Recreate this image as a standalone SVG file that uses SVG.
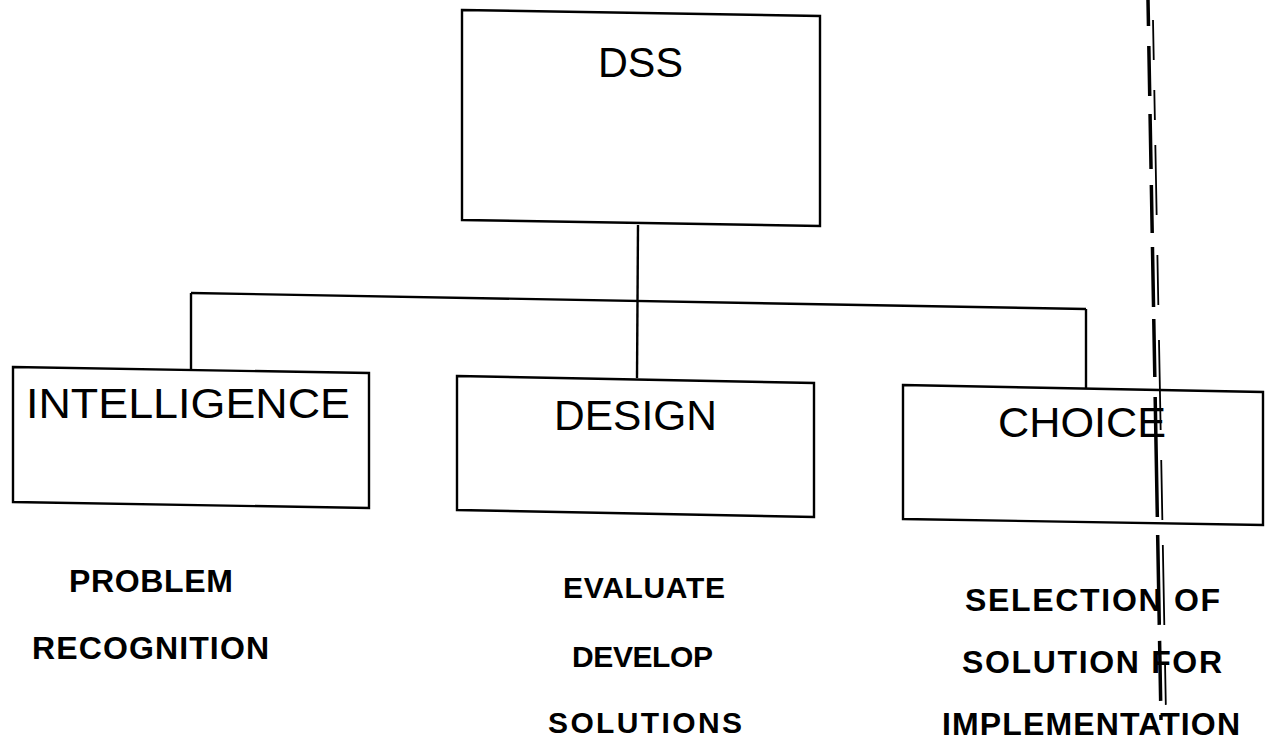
<svg xmlns="http://www.w3.org/2000/svg" width="1266" height="746" viewBox="0 0 1266 746">
  <style>
    .box { fill: #ffffff; stroke: #000000; stroke-width: 2.4; stroke-linejoin: miter; }
    .conn { fill: none; stroke: #000000; stroke-width: 2.4; }
    .title { font-family: "Liberation Sans", Arial, sans-serif; font-size: 43px; fill: #000000; font-weight: normal; }
    .label { font-family: "Liberation Sans", Arial, sans-serif; font-size: 32px; font-weight: bold; fill: #000000; }
    .label2 { font-family: "Liberation Sans", Arial, sans-serif; font-size: 30px; font-weight: bold; fill: #000000; }
    .scan { fill: none; stroke: #000000; }
  </style>
  <rect x="0" y="0" width="1266" height="746" fill="#ffffff"/>

  <g id="connectors">
    <path class="conn" d="M638,225 L637,378"/>
    <path class="conn" d="M191,293 L1086,309"/>
    <path class="conn" d="M191,293 L191,370"/>
    <path class="conn" d="M1086,309 L1086,388"/>
  </g>

  <g id="node-dss">
    <path class="box" d="M462,10 L820,16 L820,226 L462,220 Z"/>
    <text class="title" x="598" y="77" textLength="85" lengthAdjust="spacingAndGlyphs">DSS</text>
  </g>

  <g id="node-intelligence">
    <path class="box" d="M13,367 L369,373 L369,508 L13,502 Z"/>
    <text class="title" x="26" y="418" textLength="324" lengthAdjust="spacingAndGlyphs">INTELLIGENCE</text>
  </g>

  <g id="node-design">
    <path class="box" d="M457,376 L814,383 L814,517 L457,510 Z"/>
    <text class="title" x="554" y="430" textLength="163" lengthAdjust="spacingAndGlyphs">DESIGN</text>
  </g>

  <g id="node-choice">
    <path class="box" d="M903,385 L1263,392 L1263,525 L903,519 Z"/>
    <text class="title" x="998" y="437" textLength="168" lengthAdjust="spacingAndGlyphs">CHOICE</text>
  </g>

  <g id="labels-intelligence">
    <text class="label" x="69" y="592" textLength="164" lengthAdjust="spacing">PROBLEM</text>
    <text class="label" x="32" y="659" textLength="237" lengthAdjust="spacing">RECOGNITION</text>
  </g>

  <g id="labels-design">
    <text class="label2" x="563" y="598" textLength="162" lengthAdjust="spacing">EVALUATE</text>
    <text class="label2" x="572" y="667" textLength="141" lengthAdjust="spacing">DEVELOP</text>
    <text class="label2" x="548" y="733" textLength="194" lengthAdjust="spacing">SOLUTIONS</text>
  </g>

  <g id="labels-choice">
    <text class="label" x="965" y="611" textLength="255" lengthAdjust="spacing">SELECTION OF</text>
    <text class="label" x="962" y="673" textLength="260" lengthAdjust="spacing">SOLUTION FOR</text>
    <text class="label" x="942" y="735" textLength="298" lengthAdjust="spacing">IMPLEMENTATION</text>
  </g>

  <g id="scan-line">
    <path class="scan" stroke-width="3.5" stroke-dasharray="26 20 50 18 55 16 48 14 60 12 58 20 120 18 90 16 60 14 80 30" d="M1148,0 L1161,720"/>
    <path class="scan" stroke-width="1.8" stroke-dasharray="40 30 30 25 70 40 50 35 90 30 60 25 80 40" d="M1153,20 L1166,715"/>
  </g>
</svg>
